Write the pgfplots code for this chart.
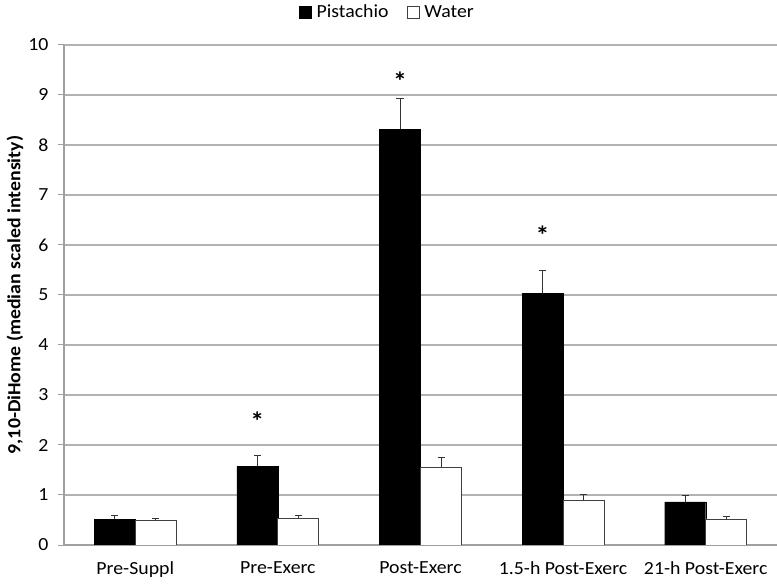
\documentclass[border=0pt]{standalone}
\usepackage{fontspec}
\setmainfont{Carlito}[FakeStretch=1.07]
\usepackage{pgfplots}
\pgfplotsset{compat=1.18}
\definecolor{axgray}{RGB}{160,160,160}
\begin{document}
\begin{tikzpicture}
\useasboundingbox (-64bp,-40bp) rectangle (713bp,545bp);
\foreach \k in {1,...,10} {
  \draw[black!30, line width=1.2bp] (0bp,\k*50bp) -- (713bp,\k*50bp);
}
\begin{axis}[
  at={(0,0)}, anchor=south west,
  scale only axis, width=713bp, height=500bp,
  ymin=0, ymax=10, ytick={0,1,...,10},
  xmin=-0.5, xmax=4.5,
  xtick={0,1,2,3,4},
  xticklabels={Pre-Suppl,Pre-Exerc,Post-Exerc,1.5-h Post-Exerc,21-h Post-Exerc},
  extra x ticks={-0.5,0.5,1.5,2.5,3.5,4.5},
  extra x tick labels={},
  extra x tick style={major tick length=6bp, tick style={axgray, line width=1bp}},
  major x tick style={draw=none},
  major tick length=6bp,
  tick align=outside,
  y tick style={axgray, line width=1bp},
  ymajorgrids=true,
  y grid style={black!30, line width=1.2bp},
  axis x line*=bottom, axis y line*=left,
  axis line style={axgray, line width=1.1bp, -},
  /pgf/number format/assume math mode=true,
  tick label style={font=\fontsize{18.5bp}{21bp}\selectfont},
  xticklabel style={yshift=-7bp},
  yticklabel style={xshift=-6bp},
  ylabel={\textbf{9,10-DiHome (median scaled intensity)}},
  every axis y label/.style={at={(axis description cs:-0.0687,0.5)}, rotate=90, anchor=center, font=\fontsize{18.5bp}{21bp}\selectfont},
  ybar=0pt, bar width=41bp,
  legend columns=2,
  legend style={draw=none, fill=none, at={(0.4537,1.066)}, anchor=center, font=\fontsize{18.5bp}{21bp}\selectfont,
    /tikz/every odd column/.append style={column sep=3bp},
    /tikz/every even column/.append style={column sep=16bp}},
  legend image code/.code={\draw[#1] (0bp,-6bp) rectangle (12bp,6bp);},
  error bars/y dir=plus, error bars/y explicit,
  error bars/error bar style={black!80, line width=0.8pt},
  error bars/error mark options={rotate=90, mark size=3.5bp, black!80, line width=0.8pt},
]
\addplot[fill=black, draw=black] coordinates {
  (0,0.51) +- (0,0.08)
  (1,1.57) +- (0,0.22)
  (2,8.31) +- (0,0.62)
  (3,5.03) +- (0,0.47)
  (4,0.86) +- (0,0.14)
};
\addplot[fill=white, draw=black!75, line width=0.9pt] coordinates {
  (0,0.49) +- (0,0.05)
  (1,0.53) +- (0,0.06)
  (2,1.55) +- (0,0.20)
  (3,0.90) +- (0,0.11)
  (4,0.52) +- (0,0.06)
};
\legend{Pistachio,Water}
\node[font=\fontsize{26bp}{28bp}\selectfont\bfseries] at (axis cs:0.856,2.47) {*};
\node[font=\fontsize{26bp}{28bp}\selectfont\bfseries] at (axis cs:1.856,9.27) {*};
\node[font=\fontsize{26bp}{28bp}\selectfont\bfseries] at (axis cs:2.856,6.2) {*};
\end{axis}
\end{tikzpicture}
\end{document}
